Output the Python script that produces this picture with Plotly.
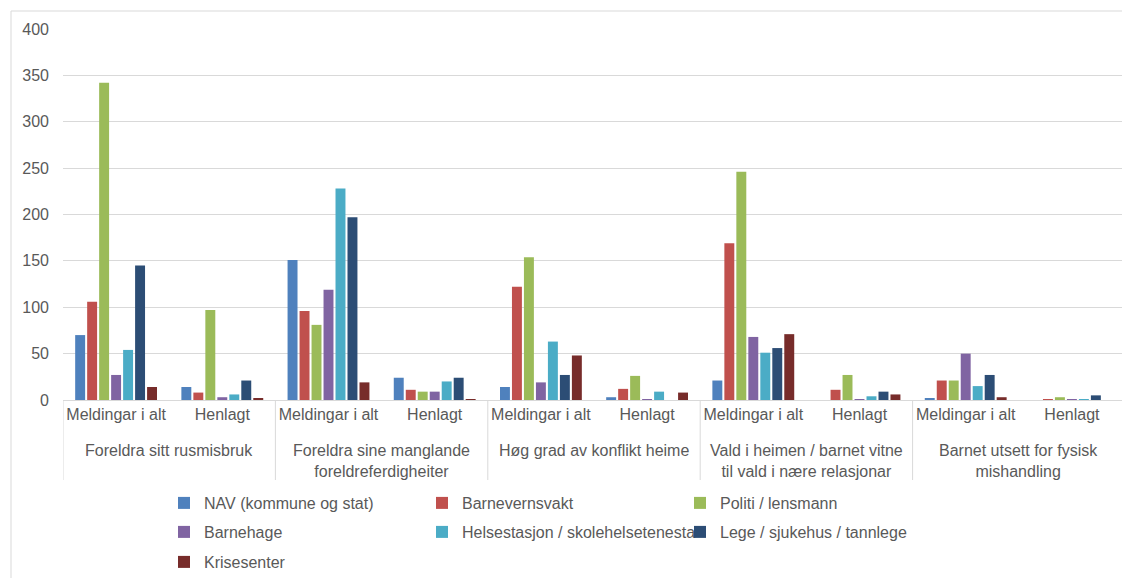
import plotly.graph_objects as go

# ---- data ----
groups = [
    "Foreldra sitt rusmisbruk",
    "Foreldra sine manglande<br>foreldreferdigheiter",
    "Høg grad av konflikt heime",
    "Vald i heimen / barnet vitne<br>til vald i nære relasjonar",
    "Barnet utsett for fysisk<br>mishandling",
]
subs = ["Meldingar i alt", "Henlagt"]

series_names = [
    "NAV (kommune og stat)",
    "Barnevernsvakt",
    "Politi / lensmann",
    "Barnehage",
    "Helsestasjon / skolehelsetenesta",
    "Lege / sjukehus / tannlege",
    "Krisesenter",
]
nav = [70, 14, 151, 24, 14, 3, 21, 0, 2, 0]
barnevernsvakt = [106, 8, 96, 11, 122, 12, 169, 11, 21, 1]
politi = [342, 97, 81, 9, 154, 26, 246, 27, 21, 3]
barnehage = [27, 3, 119, 9, 19, 1, 68, 1, 50, 1]
helsestasjon = [54, 6, 228, 20, 63, 9, 51, 4, 15, 1]
lege = [145, 21, 197, 24, 27, 0, 56, 9, 27, 5]
krisesenter = [14, 2, 19, 1, 48, 8, 71, 6, 3, 0]

y_ticks = [0, 50, 100, 150, 200, 250, 300, 350, 400]

# ---- styling ----
colors = ["#4F81BD", "#C0504D", "#9BBB59", "#8064A2", "#4BACC6", "#2C4D75", "#772C2A"]
legend_ids = ["legend", "legend", "legend", "legend2", "legend2", "legend2", "legend3"]
FONT = "Liberation Sans, Arial, sans-serif"
TXT = "#595959"
GRID = "#D9D9D9"

OFF = 8  # page body margin offset
W, H = 1130 - OFF, 578 - OFF
ML, MR, MT, MB = 63 - OFF, 5, 29 - OFF, 178
PW = W - ML - MR
PH = H - MT - MB

def py(p):  # window pixel y -> paper y
    return (H - MB - (p - OFF)) / PH

def pxx(p):  # window pixel x -> paper x
    return (p - OFF - ML) / PW

cats = [(g, s) for g in groups for s in subs]
xpos = list(range(len(cats)))
all_vals = [nav, barnevernsvakt, politi, barnehage, helsestasjon, lege, krisesenter]

fig = go.Figure()
for name, vals, c, lg in zip(series_names, all_vals, colors, legend_ids):
    fig.add_trace(go.Bar(
        x=xpos, y=vals, name=name, marker=dict(color=c, line=dict(width=0)),
        legend=lg,
    ))

shapes = []
for i in range(len(groups) + 1):
    shapes.append(dict(type="line", xref="x", yref="paper",
                       x0=i * len(subs) - 0.5, x1=i * len(subs) - 0.5,
                       y0=0, y1=py(480),
                       line=dict(color=GRID, width=1)))
shapes.append(dict(type="rect", xref="paper", yref="paper",
                   x0=pxx(11), x1=pxx(1140),
                   y0=py(600), y1=py(11),
                   line=dict(color=GRID, width=1)))

annotations = []
for i, g in enumerate(groups):
    annotations.append(dict(
        x=i * len(subs) + (len(subs) - 1) / 2, xref="x",
        y=py(440), yref="paper", yanchor="top", xanchor="center",
        text=g, showarrow=False, align="center",
        font=dict(family=FONT, size=16, color=TXT)))

legend_common = dict(
    orientation="h", font=dict(family=FONT, size=16, color=TXT),
    bgcolor="rgba(0,0,0,0)", entrywidth=213, entrywidthmode="pixels",
    xanchor="left", yanchor="middle", x=pxx(164), itemclick=False,
    traceorder="normal",
)

fig.update_layout(
    width=W, height=H,
    margin=dict(l=ML, r=MR, t=MT, b=MB, pad=0, autoexpand=False),
    paper_bgcolor="white", plot_bgcolor="white",
    barmode="group", bargap=0.21, bargroupgap=0.17,
    font=dict(family=FONT, color=TXT),
    xaxis=dict(
        range=[-0.5, len(cats) - 0.5], tickmode="array", tickvals=xpos,
        ticktext=[s for (_, s) in cats], ticks="", showgrid=False,
        showline=True, linecolor=GRID, linewidth=1, zeroline=False,
        tickfont=dict(family=FONT, size=16, color=TXT), ticklabelstandoff=0,
        fixedrange=True,
    ),
    yaxis=dict(
        range=[0, 400], tickmode="array", tickvals=y_ticks, ticks="",
        showgrid=True, gridcolor=GRID, gridwidth=1, zeroline=False,
        showline=False, tickfont=dict(family=FONT, size=16, color=TXT),
        ticklabelstandoff=13, fixedrange=True,
    ),
    legend=dict(**legend_common, y=py(503)),
    legend2=dict(**legend_common, y=py(532)),
    legend3=dict(**legend_common, y=py(562)),
    shapes=shapes,
    annotations=annotations,
    showlegend=True,
)

fig.write_html("out.html")
